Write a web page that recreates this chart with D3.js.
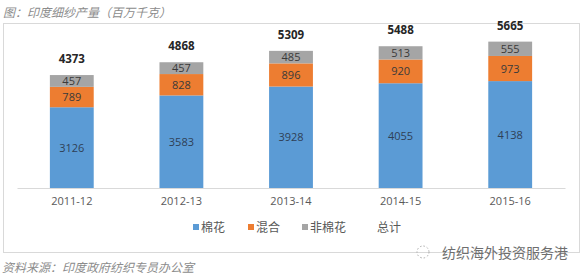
<!DOCTYPE html>
<html><head><meta charset="utf-8">
<script src="https://cdn.jsdelivr.net/npm/d3@7"></script>
<style>
html,body{margin:0;padding:0;background:#fff;}
svg{display:block;}
</style></head>
<body>
<script>
const categories = ["2011-12","2012-13","2013-14","2014-15","2015-16"];
const cotton = [3126,3583,3928,4055,4138];
const blended = [789,828,896,920,973];
const nonCotton = [457,457,485,513,555];
const totals = [4373,4868,5309,5488,5665];
const seriesNames = ["棉花","混合","非棉花","总计"];
const colors = ["#5b9bd5","#ed7d31","#a5a5a5"];
const yTicks = [0,6000];

const W=585,H=277;
const svg=d3.select("body").append("svg").attr("width",W).attr("height",H);
const cjk='"Noto Sans CJK SC","Noto Sans",sans-serif';
const num='"Open Sans","Liberation Sans",sans-serif';

// frame
svg.append("rect").attr("x",3.5).attr("y",23.5).attr("width",576).attr("height",229)
  .attr("fill","#fff").attr("stroke","#d9d9d9").attr("stroke-width",1);

// title
svg.append("text").attr("x",3).attr("y",17).attr("font-family",cjk).attr("font-size",12)
  .attr("font-style","italic").attr("fill","#8c8c8c").text("图：印度细纱产量（百万千克）");

const x=d3.scaleBand().domain(categories).range([17,565]).paddingInner(0.6).paddingOuter(0.3);
const y=d3.scaleLinear().domain([yTicks[0],yTicks[1]]).range([188,33]);

const rows=categories.map((c,i)=>({cat:c,vals:[cotton[i],blended[i],nonCotton[i]],total:totals[i]}));
const stack=d3.stack().keys([0,1,2]).value((d,k)=>d.vals[k]);
const layers=stack(rows);

const g=svg.append("g");
layers.forEach((layer,k)=>{
  g.selectAll(null).data(layer).enter().append("rect")
    .attr("x",d=>x(d.data.cat)).attr("width",x.bandwidth())
    .attr("y",d=>y(d[1])).attr("height",d=>y(d[0])-y(d[1]))
    .attr("fill",colors[k]);
  g.selectAll(null).data(layer).enter().append("text")
    .attr("x",d=>x(d.data.cat)+x.bandwidth()/2)
    .attr("y",d=>(y(d[0])+y(d[1]))/2+4)
    .attr("text-anchor","middle").attr("font-family",num).attr("font-size",11)
    .attr("fill",k===0?"#2f3f55":"#3a3a3a").text((d)=>d.data.vals[k]);
});
// totals
g.selectAll(null).data(rows).enter().append("text")
  .attr("x",d=>x(d.cat)+x.bandwidth()/2).attr("y",d=>y(d.total)-12)
  .attr("text-anchor","middle").attr("font-family",num).attr("font-size",11.5)
  .attr("font-weight","bold").attr("fill","#262626").text(d=>d.total);

// axis
const ax=svg.append("g").attr("transform","translate(0,188)").call(d3.axisBottom(x).tickSize(0).tickPadding(9));
ax.select(".domain").attr("stroke","#d9d9d9");
ax.selectAll("text").attr("font-family",num).attr("font-size",11).attr("fill","#595959");

// legend
const legX=[193,248,302,372];
seriesNames.forEach((n,i)=>{
  if(i<3) svg.append("rect").attr("x",legX[i]).attr("y",224).attr("width",6).attr("height",6).attr("fill",colors[i]);
  svg.append("text").attr("x",legX[i]+(i<3?8:5)).attr("y",231.5).attr("font-family",cjk).attr("font-size",12)
    .attr("fill","#595959").text(n);
});

// watermark
const wm=svg.append("g");
wm.append("circle").attr("cx",423).attr("cy",252).attr("r",6).attr("fill","none")
  .attr("stroke","#aaa").attr("stroke-dasharray","1.5,2").attr("stroke-width",1);
wm.append("text").attr("x",442).attr("y",258).attr("font-family",cjk).attr("font-size",14)
  .attr("fill","#6e6e6e").text("纺织海外投资服务港");

// source
svg.append("text").attr("x",2).attr("y",272).attr("font-family",cjk).attr("font-size",12)
  .attr("font-style","italic").attr("fill","#8c8c8c").text("资料来源：印度政府纺织专员办公室");
</script>
</body></html>
